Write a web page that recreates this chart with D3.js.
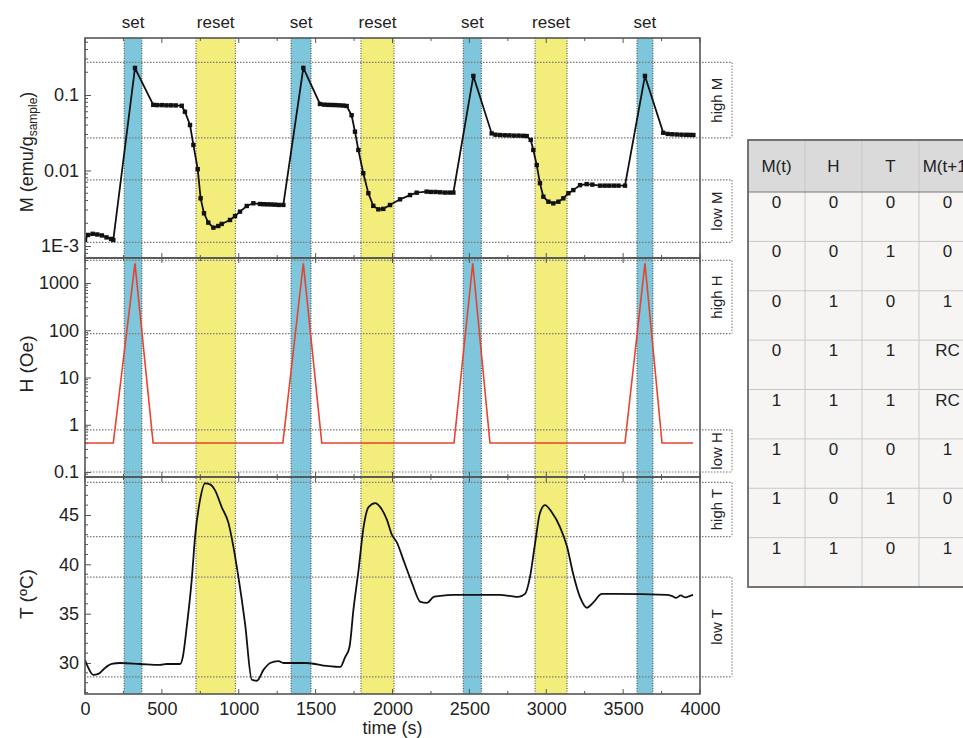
<!DOCTYPE html>
<html><head><meta charset="utf-8">
<script src="https://cdn.jsdelivr.net/npm/d3@7/dist/d3.min.js"></script>
<style>
body{margin:0;background:#fff;}
svg{display:block;font-family:"Liberation Sans",Arial,sans-serif;}
</style></head>
<body><svg id="c" width="963" height="738"></svg>
<script>
// ---------- DATA ----------
const setBands = [[255,370],[1340,1470],[2460,2578],[3590,3694]];
const resetBands = [[722,978],[1795,2010],[2927,3135]];

const mTime = [0,20,50,80,110,140,170,184,325,
  444,470,500,530,560,590,629,
  650,683,705,733,752,774,802,835,867,889,943,976,1008,1052,1095,
  1138,1160,1185,1210,1235,1260,1290,1420,
  1528,1555,1580,1605,1630,1655,1680,1702,
  1734,1756,1778,1810,1843,1875,1908,1940,1984,2049,2114,2157,2222,
  2250,2280,2310,2340,2370,2396,2526,
  2645,2670,2700,2730,2760,2790,2820,2850,2873,
  2899,2916,2938,2959,2981,3014,3046,3079,3111,3144,3176,3220,3263,3300,3350,3380,3410,3440,3470,3512,
  3642,3761,3790,3820,3850,3880,3910,3935,3957];
const mValue = [0.0012,0.0014,0.00145,0.00142,0.00138,0.0013,0.00124,0.0012,0.228,
  0.074,0.0735,0.0735,0.073,0.073,0.0728,0.072,
  0.060,0.040,0.0218,0.0104,0.00428,0.00271,0.00204,0.00175,0.00184,0.00196,0.00221,0.00249,0.00285,0.00339,0.00368,
  0.0036,0.00358,0.00356,0.00355,0.00353,0.0035,0.0035,0.228,
  0.076,0.0745,0.074,0.0738,0.0735,0.073,0.0725,0.0715,
  0.054,0.0327,0.0187,0.0092,0.0050,0.0034,0.00306,0.0031,0.00349,0.00415,0.00473,0.00508,0.00525,
  0.0052,0.0052,0.00515,0.0051,0.0051,0.0051,0.179,
  0.031,0.0298,0.0295,0.0293,0.0292,0.029,0.029,0.0288,0.0286,
  0.0254,0.0187,0.0118,0.0068,0.0045,0.00386,0.00367,0.00386,0.00428,0.0050,0.0055,0.0064,0.0066,0.0065,0.0063,0.0063,0.0063,0.0063,0.0063,0.0063,
  0.179,0.0316,0.0305,0.0302,0.030,0.0298,0.0297,0.0296,0.0295];

const hTime = [0,184,325,443,1287,1420,1540,2400,2522,2634,3512,3642,3753,3955];
const hValue = [0.41,0.41,2600,0.41,0.41,2600,0.41,0.41,2600,0.41,0.41,2600,0.41,0.41];

const tTime = [0,22,54,87,130,174,228,358,488,531,618,636,662,694,716,748,781,813,846,889,
  933,965,998,1041,1085,1118,1161,1204,1258,1291,1443,1573,1660,1692,1720,1746,1779,1812,1844,1888,
  1920,1964,1996,2029,2072,2127,2181,2224,2268,2311,2398,2571,2699,2764,2818,2862,2894,2927,2959,2992,
  3035,3089,3135,3174,3219,3265,3304,3362,3460,3785,3815,3845,3875,3905,3935,3955];
const tValue = [30.3,29.5,28.8,28.9,29.5,29.9,30.0,29.9,29.8,29.9,29.9,30.6,33.7,38.4,42.8,46.5,48.2,48.1,47.5,45.8,
  44.2,41.8,38.7,34.0,28.3,28.2,29.3,30.0,30.2,30.0,30.0,29.7,29.6,30.6,31.6,35.4,39.4,43.8,45.8,46.2,
  45.8,44.5,43.0,42.2,40.4,38.1,36.2,36.1,36.7,36.8,36.9,36.9,36.9,36.8,36.7,37.0,38.7,42.1,45.2,46.0,
  45.3,43.8,41.8,39.1,36.7,35.6,36.1,37.0,37.0,36.9,36.8,36.6,36.85,36.65,36.8,36.9];

// threshold windows [upper, lower]
const mWindows = [{name:"high M",hi:0.27,lo:0.027},{name:"low M",hi:0.0075,lo:0.00112}];
const hWindows = [{name:"high H",hi:3000,lo:85},{name:"low H",hi:0.78,lo:0.1}];
const tWindows = [{name:"high T",hi:48.3,lo:42.8},{name:"low T",hi:38.7,lo:28.6}];

const mTicks = [0.1,0.01,0.001], mTickLabels = ["0.1","0.01","1E-3"];
const hTicks = [0.1,1,10,100,1000], hTickLabels = ["0.1","1","10","100","1000"];
const tTicks = [30,35,40,45];
const xTicks = [0,500,1000,1500,2000,2500,3000,3500,4000];

const tableHeader = ["M(t)","H","T","M(t+1)"];
const tableRows = [["0","0","0","0"],["0","0","1","0"],["0","1","0","1"],["0","1","1","RC"],
  ["1","1","1","RC"],["1","0","0","1"],["1","0","1","0"],["1","1","0","1"]];

// ---------- LAYOUT ----------
const svg = d3.select("#c");
const X0=85, X1=700, BOX=732;
const x = d3.scaleLinear().domain([0,4000]).range([X0,X1]);
const panels = [
  {top:38,bot:258, y:d3.scaleLog().domain([1e-3,0.1]).range([246,95]), ticks:mTicks, labels:mTickLabels, log:true, win:mWindows},
  {top:258,bot:477, y:d3.scaleLog().domain([0.1,1000]).range([472,283]), ticks:hTicks, labels:hTickLabels, log:true, win:hWindows},
  {top:477,bot:694, y:d3.scaleLinear().domain([30,45]).range([663,515]), ticks:tTicks, labels:tTicks.map(String), log:false, win:tWindows}
];
const TOP=38, BOT=694;
const FONT="Liberation Sans, Arial, sans-serif";

// bands
const BLUE="#7dc6db", YEL="#f3ee7b";
svg.append("g").selectAll("rect").data(setBands).join("rect")
  .attr("x",d=>x(d[0])).attr("width",d=>x(d[1])-x(d[0])).attr("y",TOP).attr("height",BOT-TOP).attr("fill",BLUE);
svg.append("g").selectAll("rect").data(resetBands).join("rect")
  .attr("x",d=>x(d[0])).attr("width",d=>x(d[1])-x(d[0])).attr("y",TOP).attr("height",BOT-TOP).attr("fill",YEL);
const edges = setBands.concat(resetBands).flat();
svg.append("g").selectAll("line").data(edges).join("line")
  .attr("x1",d=>x(d)).attr("x2",d=>x(d)).attr("y1",TOP).attr("y2",BOT)
  .attr("stroke","#444").attr("stroke-width",1).attr("stroke-dasharray","1,1.5");

// band labels
svg.append("g").selectAll("text").data(setBands.map(d=>({c:(d[0]+d[1])/2,t:"set"})).concat(resetBands.map(d=>({c:(d[0]+d[1])/2,t:"reset"}))))
  .join("text").attr("x",d=>x(d.c)).attr("y",28).attr("text-anchor","middle")
  .attr("font-size",17).attr("fill","#222").text(d=>d.t);

// panels
panels.forEach((p,i)=>{
  const g = svg.append("g");
  p.win.forEach(w=>{
    const yh=p.y(w.hi), yl=p.y(w.lo);
    [yh,yl].forEach(yy=>g.append("line").attr("x1",X0+2).attr("x2",BOX).attr("y1",yy).attr("y2",yy)
      .attr("stroke","#7a7a7a").attr("stroke-width",1.2).attr("stroke-dasharray","1.5,1.5"));
    g.append("line").attr("x1",BOX).attr("x2",BOX).attr("y1",yh).attr("y2",yl)
      .attr("stroke","#8a8a8a").attr("stroke-width",1.2).attr("stroke-dasharray","1.5,1.5");
    g.append("text").attr("transform",`translate(716,${(yh+yl)/2}) rotate(-90)`)
      .attr("text-anchor","middle").attr("dominant-baseline","central")
      .attr("font-size",15).attr("fill","#222").text(w.name);
  });
  const ax = d3.axisLeft(p.y).tickValues(p.ticks).tickFormat((d,k)=>p.labels[k]).tickSizeInner(-6).tickSizeOuter(0).tickPadding(6);
  const ag = g.append("g").attr("transform",`translate(${X0},0)`).call(ax);
  ag.select(".domain").remove();
  ag.selectAll("text").attr("font-size",18).attr("fill","#222").attr("font-family",FONT);
  ag.selectAll("line").attr("stroke","#555");
  let minor=[];
  if(p.log){
    const [a,b]=p.y.domain().map(Math.log10);
    for(let e=Math.floor(a)-1;e<=Math.ceil(b)+1;e++) for(let m=2;m<=9;m++){const v=m*Math.pow(10,e); const yy=p.y(v); if(yy>p.top+1&&yy<p.bot-1) minor.push(yy);}
  } else {
    for(let v=26;v<=50;v++){ if(v%5!==0){const yy=p.y(v); if(yy>p.top+1&&yy<p.bot-1) minor.push(yy);} }
  }
  g.selectAll(".mn").data(minor).join("line").attr("x1",X0).attr("x2",X0+3).attr("y1",d=>d).attr("y2",d=>d).attr("stroke","#555");
  const xt=[]; for(let v=0;v<=4000;v+=250) xt.push(v);
  xt.forEach(v=>{
    const L = v%500===0?5:3;
    g.append("line").attr("x1",x(v)).attr("x2",x(v)).attr("y1",p.bot).attr("y2",p.bot-L).attr("stroke","#555");
    g.append("line").attr("x1",x(v)).attr("x2",x(v)).attr("y1",p.top).attr("y2",p.top+L).attr("stroke","#555");
  });
  svg.append("clipPath").attr("id","clip"+i).append("rect").attr("x",X0).attr("y",p.top).attr("width",X1-X0).attr("height",p.bot-p.top);
});

// data lines
const pM = panels[0], pH = panels[1], pT = panels[2];
const mData = mTime.map((t,i)=>({t,v:mValue[i]}));
svg.append("path").attr("clip-path","url(#clip0)").datum(mData)
  .attr("d",d3.line().x(d=>x(d.t)).y(d=>pM.y(d.v)))
  .attr("fill","none").attr("stroke","#111").attr("stroke-width",1.8);
svg.append("g").attr("clip-path","url(#clip0)").selectAll("rect").data(mData).join("rect")
  .attr("x",d=>x(d.t)-2.2).attr("y",d=>pM.y(d.v)-2.2).attr("width",4.4).attr("height",4.4).attr("fill","#111");

const hData = hTime.map((t,i)=>({t,v:hValue[i]}));
svg.append("path").attr("clip-path","url(#clip1)").datum(hData)
  .attr("d",d3.line().x(d=>x(d.t)).y(d=>pH.y(d.v)))
  .attr("fill","none").attr("stroke","#e8432e").attr("stroke-width",1.6);

const tData = tTime.map((t,i)=>({t,v:tValue[i]}));
svg.append("path").attr("clip-path","url(#clip2)").datum(tData)
  .attr("d",d3.line().curve(d3.curveMonotoneX).x(d=>x(d.t)).y(d=>pT.y(d.v)))
  .attr("fill","none").attr("stroke","#111").attr("stroke-width",1.8);

// frames
panels.forEach(p=>{
  svg.append("rect").attr("x",X0).attr("y",p.top).attr("width",X1-X0).attr("height",p.bot-p.top)
    .attr("fill","none").attr("stroke","#555").attr("stroke-width",1.6);
});

// x axis labels
const xa = d3.axisBottom(x).tickValues(xTicks).tickSize(0).tickPadding(8).tickFormat(d3.format("d"));
const xg = svg.append("g").attr("transform",`translate(0,${BOT})`).call(xa);
xg.select(".domain").remove();
xg.selectAll("text").attr("font-size",18).attr("fill","#222").attr("font-family",FONT);
svg.append("text").attr("x",x(2000)).attr("y",734).attr("text-anchor","middle").attr("font-size",18).attr("fill","#222").text("time (s)");

// y axis titles
const mt = svg.append("text").attr("transform","translate(33,152) rotate(-90)").attr("text-anchor","middle").attr("font-size",18).attr("fill","#222");
mt.append("tspan").text("M (emu/g");
mt.append("tspan").attr("font-size",12).attr("dy",4).text("sample");
mt.append("tspan").attr("dy",-4).text(")");
svg.append("text").attr("transform","translate(33,364) rotate(-90)").attr("text-anchor","middle").attr("font-size",19).attr("fill","#222").text("H (Oe)");
svg.append("text").attr("transform","translate(33,594) rotate(-90)").attr("text-anchor","middle").attr("font-size",19).attr("fill","#222").text("T (ºC)");

// ---------- TABLE ----------
const tbl = svg.append("g");
const colX = d3.scaleBand().domain(d3.range(tableHeader.length)).range([748,976]);
const rowY = d3.scaleBand().domain(d3.range(tableRows.length)).range([192,587]);
tbl.append("rect").attr("x",748).attr("y",140).attr("width",228).attr("height",52).attr("fill","#dadada");
tbl.append("rect").attr("x",748).attr("y",192).attr("width",228).attr("height",395).attr("fill","#f6f5f4");
tbl.selectAll(".rl").data(d3.range(1,tableRows.length)).join("line")
  .attr("x1",748).attr("x2",976).attr("y1",d=>rowY(d)).attr("y2",d=>rowY(d)).attr("stroke","#c8c8c8").attr("stroke-width",1);
tbl.selectAll(".cl").data(d3.range(1,tableHeader.length)).join("line")
  .attr("x1",d=>colX(d)).attr("x2",d=>colX(d)).attr("y1",140).attr("y2",587).attr("stroke","#c8c8c8").attr("stroke-width",1);
tbl.append("line").attr("x1",748).attr("x2",976).attr("y1",192).attr("y2",192).attr("stroke","#777").attr("stroke-width",1.2);
tbl.append("rect").attr("x",748).attr("y",140).attr("width",228).attr("height",447).attr("fill","none").attr("stroke","#666").attr("stroke-width",1.8);
tbl.selectAll(".hd").data(tableHeader).join("text")
  .attr("x",(d,i)=>colX(i)+colX.bandwidth()/2).attr("y",172).attr("text-anchor","middle")
  .attr("font-size",17).attr("fill","#222").text(d=>d);
tableRows.forEach((r,ri)=>{
  tbl.selectAll(".r"+ri).data(r).join("text")
    .attr("x",(d,i)=>colX(i)+colX.bandwidth()/2).attr("y",rowY(ri)+16).attr("text-anchor","middle")
    .attr("font-size",17).attr("fill","#222").text(d=>d);
});
</script></body></html>
